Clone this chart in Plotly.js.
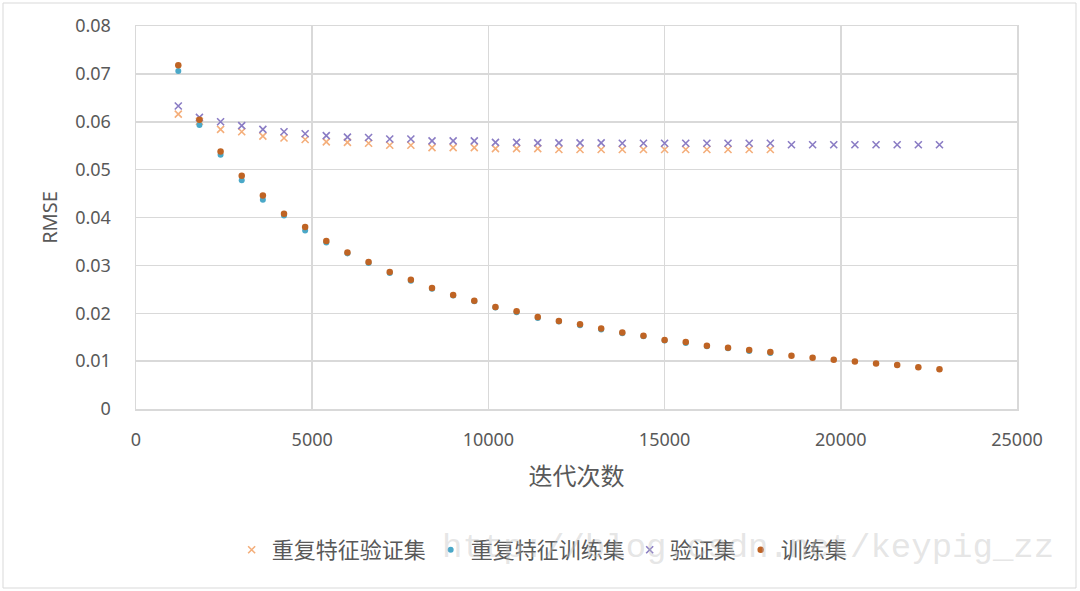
<!DOCTYPE html>
<html>
<head>
<meta charset="utf-8">
<script src="https://cdn.plot.ly/plotly-3.0.1.min.js"></script>
<style>
  html, body { margin: 0; padding: 0; background: #fff; }
  #chart { width: 1080px; height: 591px; }
</style>
</head>
<body>
<div id="chart"></div>
<script>
// Iteration counts (x)
const iters = [1200, 1800, 2400, 3000, 3600, 4200, 4800, 5400, 6000, 6600, 7200, 7800,
  8400, 9000, 9600, 10200, 10800, 11400, 12000, 12600, 13200, 13800, 14400, 15000,
  15600, 16200, 16800, 17400, 18000, 18600, 19200, 19800, 20400, 21000, 21600, 22200, 22800];

// 重复特征验证集 (to 18000)
const repValid = [0.0616, 0.0601, 0.0584, 0.0579, 0.0570, 0.0566, 0.0563, 0.0558, 0.0557,
  0.0555, 0.0551, 0.0551, 0.0546, 0.0546, 0.0546, 0.0544, 0.0544, 0.0544, 0.0542, 0.0542,
  0.0542, 0.0542, 0.0542, 0.0542, 0.0542, 0.0542, 0.0542, 0.0542, 0.0542];

// 重复特征训练集 (to 18000)
const repTrain = [0.0706, 0.0593, 0.0531, 0.0478, 0.0437, 0.0404, 0.0373, 0.0348, 0.0325,
  0.0305, 0.0284, 0.0268, 0.0251, 0.0237, 0.0225, 0.0212, 0.0202, 0.0190, 0.0183, 0.0175,
  0.0166, 0.0158, 0.0152, 0.0143, 0.0138, 0.0131, 0.0127, 0.0121, 0.0117];

// 验证集
const valid = [0.0633, 0.0609, 0.0600, 0.0592, 0.0584, 0.0579, 0.0575, 0.0571, 0.0568,
  0.0567, 0.0564, 0.0564, 0.0560, 0.0560, 0.0560, 0.0557, 0.0557, 0.0556, 0.0556, 0.0556,
  0.0556, 0.0555, 0.0555, 0.0555, 0.0555, 0.0555, 0.0555, 0.0555, 0.0555, 0.0552, 0.0552,
  0.0552, 0.0552, 0.0552, 0.0552, 0.0552, 0.0552];

// 训练集
const train = [0.0718, 0.0604, 0.0538, 0.0487, 0.0446, 0.0408, 0.0380, 0.0351, 0.0327,
  0.0307, 0.0286, 0.0270, 0.0253, 0.0238, 0.0226, 0.0213, 0.0204, 0.0192, 0.0184, 0.0177,
  0.0168, 0.0160, 0.0153, 0.0144, 0.0140, 0.0132, 0.0128, 0.0123, 0.0119, 0.0111, 0.0107,
  0.0103, 0.0099, 0.0095, 0.0092, 0.0087, 0.0083];

const seriesNames = ['重复特征验证集', '重复特征训练集', '验证集', '训练集'];
const xTicks = [0, 5000, 10000, 15000, 20000, 25000];
const yTicks = [0, 0.01, 0.02, 0.03, 0.04, 0.05, 0.06, 0.07, 0.08];
const yTickText = ['0', '0.01', '0.02', '0.03', '0.04', '0.05', '0.06', '0.07', '0.08'];

const cOrange = '#F4AE7A', cBlue = '#4AA8C8', cPurple = '#8A7CC4', cBrown = '#BF6424';

const traces = [
  { x: iters.slice(0, repValid.length), y: repValid, name: seriesNames[0], type: 'scatter', mode: 'markers',
    marker: { symbol: 'x-thin', size: 7, color: cOrange, line: { width: 1.6, color: cOrange } } },
  { x: iters.slice(0, repTrain.length), y: repTrain, name: seriesNames[1], type: 'scatter', mode: 'markers',
    marker: { symbol: 'circle', size: 6, color: cBlue } },
  { x: iters, y: valid, name: seriesNames[2], type: 'scatter', mode: 'markers',
    marker: { symbol: 'x-thin', size: 7, color: cPurple, line: { width: 1.6, color: cPurple } } },
  { x: iters, y: train, name: seriesNames[3], type: 'scatter', mode: 'markers',
    marker: { symbol: 'circle', size: 6.5, color: cBrown } }
];

const W = 881, H = 383; // plot area size
const layout = {
  width: 1080, height: 591,
  margin: { l: 136, r: 63, t: 26, b: 182 },
  paper_bgcolor: '#fff', plot_bgcolor: '#fff',
  font: { family: 'Noto Sans, Noto Sans CJK SC, sans-serif', color: '#595959', size: 17 },
  showlegend: true,
  legend: {
    orientation: 'h', x: 0.461, xanchor: 'center', y: -0.368, yanchor: 'middle',
    font: { family: 'Noto Sans CJK SC, sans-serif', size: 22, color: '#595959' },
    bgcolor: 'rgba(0,0,0,0)', itemwidth: 30, tracegroupgap: 0
  },
  xaxis: {
    range: [0, 25000], tickvals: xTicks, ticktext: xTicks.map(String),
    showgrid: true, gridcolor: '#D9D9D9', gridwidth: 1.5,
    showline: true, linecolor: '#D9D9D9', linewidth: 1.5, mirror: true,
    zeroline: false, ticks: '', ticklabelstandoff: 14,
    tickfont: { size: 18, color: '#595959' },
    title: { text: '迭代次数', font: { family: 'Noto Sans CJK SC, sans-serif', size: 24, color: '#595959' }, standoff: 18 },
    automargin: false
  },
  yaxis: {
    range: [0, 0.08], tickvals: yTicks, ticktext: yTickText,
    showgrid: true, gridcolor: '#D9D9D9', gridwidth: 1.5,
    showline: true, linecolor: '#D9D9D9', linewidth: 1.5, mirror: true,
    zeroline: false, ticks: '', ticklabelstandoff: 20,
    tickfont: { size: 18, color: '#595959' },
    title: { text: 'RMSE', font: { size: 20, color: '#595959' }, standoff: 12 },
    automargin: false
  },
  shapes: [
    { type: 'rect', xref: 'paper', yref: 'paper',
      x0: (3 - 136) / W, x1: (1076 - 136) / W, y0: (409 - 588) / H, y1: (409 - 3) / H,
      line: { color: '#D9D9D9', width: 1 }, fillcolor: 'rgba(0,0,0,0)', layer: 'below' }
  ],
  annotations: [
    { text: 'http://blog.csdn.net/keypig_zz', xref: 'paper', yref: 'paper',
      x: (1056 - 136) / W, xanchor: 'right', y: (409 - 548) / H, yanchor: 'middle',
      showarrow: false, font: { family: 'Liberation Mono, monospace', size: 34, color: 'rgba(190,190,190,0.4)' } }
  ]
};

Plotly.newPlot('chart', traces, layout, { displayModeBar: false, staticPlot: true });
</script>
</body>
</html>
